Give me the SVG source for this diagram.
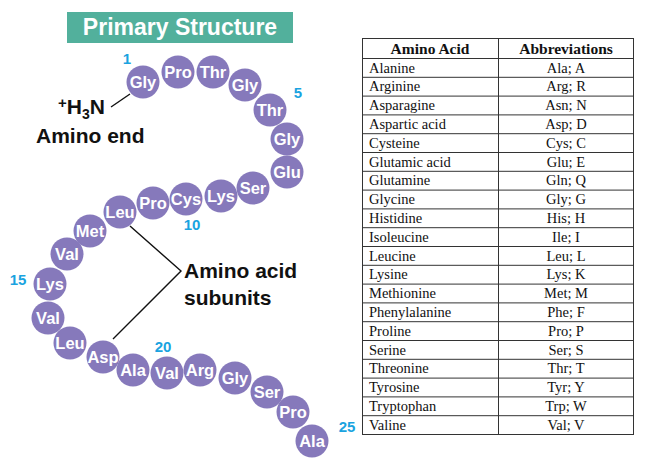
<svg xmlns="http://www.w3.org/2000/svg" width="656" height="463" viewBox="0 0 656 463">
<style>
.bead{fill:#8679bb}
.bl{font-family:"Liberation Sans",Arial,sans-serif;font-weight:bold;font-size:16.5px;fill:#fff;text-anchor:middle}
.num{font-family:"Liberation Sans",Arial,sans-serif;font-weight:bold;font-size:15px;fill:#1aa3e0;text-anchor:middle}
.lbl{font-family:"Liberation Sans",Arial,sans-serif;font-weight:bold;font-size:21px;fill:#111}
.conn{stroke:#111;stroke-width:1.4;fill:none}
.th{font-family:"Liberation Serif","Times New Roman",serif;font-weight:bold;font-size:15.5px;fill:#111;text-anchor:middle}
.td{font-family:"Liberation Serif","Times New Roman",serif;font-size:14.5px;fill:#111}
.tc{text-anchor:middle}
.grid{stroke:#333;stroke-width:1;fill:none}
</style>
<rect width="656" height="463" fill="#fff"/>
<g id="title">
<rect x="67" y="12" width="226" height="31" fill="#52b09c"/>
<text x="180" y="35" style="font-family:'Liberation Sans',Arial,sans-serif;font-weight:bold;font-size:23px;fill:#fff;text-anchor:middle">Primary Structure</text>
</g>
<g id="connectors">
<line class="conn" x1="111" y1="107" x2="130" y2="94"/>
<polyline class="conn" points="130,226 181,271 113,339"/>
</g>
<g id="amino-end">
<text class="lbl" x="58" y="114" style="font-size:21px"><tspan font-size="15px" dy="-6">+</tspan><tspan dy="6">H</tspan><tspan font-size="14px" dy="5">3</tspan><tspan dy="-5">N</tspan></text>
<text class="lbl" x="36" y="143">Amino end</text>
</g>
<g id="subunits-label">
<text class="lbl" x="184" y="278">Amino acid</text>
<text class="lbl" x="184" y="305">subunits</text>
</g>
<g id="numbers">
<text class="num" x="127" y="64">1</text>
<text class="num" x="298" y="98">5</text>
<text class="num" x="192" y="230">10</text>
<text class="num" x="18" y="285">15</text>
<text class="num" x="163" y="352">20</text>
<text class="num" x="347" y="432">25</text>
</g>
<g id="b1"><circle class="bead" cx="143" cy="82" r="16.5"/><text class="bl" x="143" y="88">Gly</text></g>
<g id="b2"><circle class="bead" cx="178" cy="72" r="16.5"/><text class="bl" x="178" y="78">Pro</text></g>
<g id="b3"><circle class="bead" cx="213" cy="72" r="16.5"/><text class="bl" x="213" y="78">Thr</text></g>
<g id="b4"><circle class="bead" cx="245" cy="85" r="16.5"/><text class="bl" x="245" y="91">Gly</text></g>
<g id="b5"><circle class="bead" cx="270" cy="110" r="16.5"/><text class="bl" x="270" y="116">Thr</text></g>
<g id="b6"><circle class="bead" cx="287" cy="139" r="16.5"/><text class="bl" x="287" y="145">Gly</text></g>
<g id="b7"><circle class="bead" cx="287" cy="172" r="16.5"/><text class="bl" x="287" y="178">Glu</text></g>
<g id="b8"><circle class="bead" cx="253" cy="188" r="16.5"/><text class="bl" x="253" y="194">Ser</text></g>
<g id="b9"><circle class="bead" cx="221" cy="196" r="16.5"/><text class="bl" x="221" y="202">Lys</text></g>
<g id="b10"><circle class="bead" cx="186" cy="199" r="16.5"/><text class="bl" x="186" y="205">Cys</text></g>
<g id="b11"><circle class="bead" cx="153" cy="203" r="16.5"/><text class="bl" x="153" y="209">Pro</text></g>
<g id="b12"><circle class="bead" cx="120" cy="212" r="16.5"/><text class="bl" x="120" y="218">Leu</text></g>
<g id="b13"><circle class="bead" cx="90" cy="231" r="16.5"/><text class="bl" x="90" y="237">Met</text></g>
<g id="b14"><circle class="bead" cx="67" cy="254" r="16.5"/><text class="bl" x="67" y="260">Val</text></g>
<g id="b15"><circle class="bead" cx="50" cy="284" r="16.5"/><text class="bl" x="50" y="290">Lys</text></g>
<g id="b16"><circle class="bead" cx="48" cy="318" r="16.5"/><text class="bl" x="48" y="324">Val</text></g>
<g id="b17"><circle class="bead" cx="70" cy="343" r="16.5"/><text class="bl" x="70" y="349">Leu</text></g>
<g id="b18"><circle class="bead" cx="103" cy="357" r="16.5"/><text class="bl" x="103" y="363">Asp</text></g>
<g id="b19"><circle class="bead" cx="133" cy="370" r="16.5"/><text class="bl" x="133" y="376">Ala</text></g>
<g id="b20"><circle class="bead" cx="167" cy="373" r="16.5"/><text class="bl" x="167" y="379">Val</text></g>
<g id="b21"><circle class="bead" cx="200" cy="370" r="16.5"/><text class="bl" x="200" y="376">Arg</text></g>
<g id="b22"><circle class="bead" cx="235" cy="378" r="16.5"/><text class="bl" x="235" y="384">Gly</text></g>
<g id="b23"><circle class="bead" cx="267" cy="392" r="16.5"/><text class="bl" x="267" y="398">Ser</text></g>
<g id="b24"><circle class="bead" cx="293" cy="412" r="16.5"/><text class="bl" x="293" y="418">Pro</text></g>
<g id="b25"><circle class="bead" cx="312" cy="441" r="16.5"/><text class="bl" x="312" y="447">Ala</text></g>
<g id="table">
<rect class="grid" x="362.5" y="38.5" width="271" height="396" stroke-width="1.3"/>
<line class="grid" x1="498.5" y1="38.5" x2="498.5" y2="434.5"/>
<g class="grid">
<line x1="362" y1="58.5" x2="634" y2="58.5"/>
<line x1="362" y1="77.3" x2="634" y2="77.3"/>
<line x1="362" y1="96.1" x2="634" y2="96.1"/>
<line x1="362" y1="114.9" x2="634" y2="114.9"/>
<line x1="362" y1="133.7" x2="634" y2="133.7"/>
<line x1="362" y1="152.5" x2="634" y2="152.5"/>
<line x1="362" y1="171.3" x2="634" y2="171.3"/>
<line x1="362" y1="190.1" x2="634" y2="190.1"/>
<line x1="362" y1="208.9" x2="634" y2="208.9"/>
<line x1="362" y1="227.7" x2="634" y2="227.7"/>
<line x1="362" y1="246.5" x2="634" y2="246.5"/>
<line x1="362" y1="265.3" x2="634" y2="265.3"/>
<line x1="362" y1="284.1" x2="634" y2="284.1"/>
<line x1="362" y1="302.9" x2="634" y2="302.9"/>
<line x1="362" y1="321.7" x2="634" y2="321.7"/>
<line x1="362" y1="340.5" x2="634" y2="340.5"/>
<line x1="362" y1="359.3" x2="634" y2="359.3"/>
<line x1="362" y1="378.1" x2="634" y2="378.1"/>
<line x1="362" y1="396.9" x2="634" y2="396.9"/>
<line x1="362" y1="415.7" x2="634" y2="415.7"/>
</g>
<text class="th" x="430" y="54">Amino Acid</text>
<text class="th" x="566" y="54">Abbreviations</text>
<g class="td">
<text x="369" y="72.5">Alanine</text>
<text x="369" y="91.3">Arginine</text>
<text x="369" y="110.1">Asparagine</text>
<text x="369" y="128.9">Aspartic acid</text>
<text x="369" y="147.7">Cysteine</text>
<text x="369" y="166.5">Glutamic acid</text>
<text x="369" y="185.3">Glutamine</text>
<text x="369" y="204.1">Glycine</text>
<text x="369" y="222.9">Histidine</text>
<text x="369" y="241.7">Isoleucine</text>
<text x="369" y="260.5">Leucine</text>
<text x="369" y="279.3">Lysine</text>
<text x="369" y="298.1">Methionine</text>
<text x="369" y="316.9">Phenylalanine</text>
<text x="369" y="335.7">Proline</text>
<text x="369" y="354.5">Serine</text>
<text x="369" y="373.3">Threonine</text>
<text x="369" y="392.1">Tyrosine</text>
<text x="369" y="410.9">Tryptophan</text>
<text x="369" y="429.7">Valine</text>
</g>
<g class="td tc">
<text x="566" y="72.5">Ala; A</text>
<text x="566" y="91.3">Arg; R</text>
<text x="566" y="110.1">Asn; N</text>
<text x="566" y="128.9">Asp; D</text>
<text x="566" y="147.7">Cys; C</text>
<text x="566" y="166.5">Glu; E</text>
<text x="566" y="185.3">Gln; Q</text>
<text x="566" y="204.1">Gly; G</text>
<text x="566" y="222.9">His; H</text>
<text x="566" y="241.7">Ile; I</text>
<text x="566" y="260.5">Leu; L</text>
<text x="566" y="279.3">Lys; K</text>
<text x="566" y="298.1">Met; M</text>
<text x="566" y="316.9">Phe; F</text>
<text x="566" y="335.7">Pro; P</text>
<text x="566" y="354.5">Ser; S</text>
<text x="566" y="373.3">Thr; T</text>
<text x="566" y="392.1">Tyr; Y</text>
<text x="566" y="410.9">Trp; W</text>
<text x="566" y="429.7">Val; V</text>
</g>
</g>
</svg>
